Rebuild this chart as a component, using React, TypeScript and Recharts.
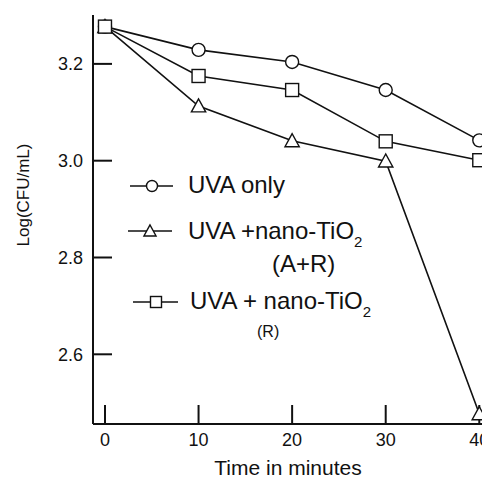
import React from 'react';
import { LineChart, Line, XAxis, YAxis, Legend } from 'recharts';

// time points (minutes) and Log(CFU/mL) per treatment
const times = [0, 10, 20, 30, 40];
const uvaOnly = [3.277, 3.229, 3.204, 3.146, 3.042];
const uvaTiO2AR = [3.277, 3.113, 3.041, 2.999, 2.477];
const uvaTiO2R = [3.277, 3.175, 3.146, 3.04, 3.001];

const xTicks = [0, 10, 20, 30, 40];
const yTicks = [2.6, 2.8, 3.0, 3.2];

const series = [
  { key: 'uva', name: 'UVA only', shape: 'circle', values: uvaOnly, main: 'UVA only', sub: '', note: '' },
  { key: 'ar', name: 'UVA +nano-TiO2 (A+R)', shape: 'triangle', values: uvaTiO2AR, main: 'UVA +nano-TiO', sub: '2', note: '(A+R)' },
  { key: 'r', name: 'UVA + nano-TiO2 (R)', shape: 'square', values: uvaTiO2R, main: 'UVA + nano-TiO', sub: '2', note: '(R)' },
];

const data = times.map((t, i) => {
  const row: Record<string, number> = { t };
  series.forEach((s) => (row[s.key] = s.values[i]));
  return row;
});

const FONT = '"Liberation Sans", Arial, sans-serif';
const INK = '#111';

const Marker = ({ shape, cx, cy, size }: { shape: string; cx: number; cy: number; size: number }) => {
  if (shape === 'circle') {
    return <circle cx={cx} cy={cy} r={size} fill="#fff" stroke={INK} strokeWidth={1.4} />;
  }
  if (shape === 'triangle') {
    const pts = `${cx},${cy - size * 1.1} ${cx - size * 1.1},${cy + size * 0.9} ${cx + size * 1.1},${cy + size * 0.9}`;
    return <polygon points={pts} fill="#fff" stroke={INK} strokeWidth={1.4} />;
  }
  return <rect x={cx - size} y={cy - size} width={size * 2} height={size * 2} fill="#fff" stroke={INK} strokeWidth={1.4} />;
};

// legend rows, local coordinates inside the legend box
const legendRows = [
  { lineY: 21, x0: 10, x1: 53, mx: 32, textX: 68, baseY: 28, noteX: 0, noteY: 0, noteSize: 24 },
  { lineY: 66, x0: 8, x1: 52, mx: 30, textX: 68, baseY: 74, noteX: 152, noteY: 107, noteSize: 24 },
  { lineY: 137, x0: 13, x1: 58, mx: 36, textX: 70, baseY: 144, noteX: 137, noteY: 172, noteSize: 16 },
];

const LegendBox = () => (
  <svg width={320} height={185} style={{ display: 'block' }}>
    {series.map((s, i) => {
      const r = legendRows[i];
      return (
        <g key={s.key}>
          <line x1={r.x0} x2={r.x1} y1={r.lineY} y2={r.lineY} stroke={INK} strokeWidth={1.5} />
          <Marker shape={s.shape} cx={r.mx} cy={r.lineY} size={5.5} />
          <text x={r.textX} y={r.baseY} fontSize={24} fontFamily={FONT} fill={INK}>
            {s.main}
            {s.sub && (
              <tspan fontSize={15} dy={8}>
                {s.sub}
              </tspan>
            )}
          </text>
          {s.note && (
            <text x={r.noteX} y={r.noteY} fontSize={r.noteSize} fontFamily={FONT} fill={INK}>
              {s.note}
            </text>
          )}
        </g>
      );
    })}
  </svg>
);

const tickStyle = { fontSize: 18, fontFamily: FONT, fill: INK };

export default function App() {
  return (
    <div style={{ position: 'fixed', left: 0, top: 0, width: 482, height: 478, overflow: 'hidden', background: '#fff' }}>
      <LineChart width={500} height={478} data={data} margin={{ top: 15, right: 2, bottom: 0, left: 0 }}>
        <XAxis
          dataKey="t"
          type="number"
          domain={[-1.28, 42]}
          ticks={xTicks}
          allowDataOverflow
          height={54}
          tickSize={-19}
          tickMargin={28}
          tick={tickStyle}
          axisLine={{ stroke: INK, strokeWidth: 2 }}
          tickLine={{ stroke: INK, strokeWidth: 2 }}
          label={{
            content: () => (
              <text x={288} y={475} textAnchor="middle" fontSize={21} fontFamily={FONT} fill={INK}>
                Time in minutes
              </text>
            ),
          }}
        />
        <XAxis
          xAxisId="top"
          dataKey="t"
          type="number"
          orientation="top"
          domain={[-1.28, 42]}
          height={0}
          tick={false}
          tickLine={false}
          axisLine={{ stroke: INK, strokeWidth: 2 }}
        />
        <YAxis
          type="number"
          domain={[2.456, 3.301]}
          ticks={yTicks}
          allowDataOverflow
          width={93}
          tickSize={-19}
          tickMargin={29}
          tick={tickStyle}
          tickFormatter={(v: number) => v.toFixed(1)}
          axisLine={{ stroke: INK, strokeWidth: 2 }}
          tickLine={{ stroke: INK, strokeWidth: 2 }}
          label={{
            content: () => (
              <text
                x={29}
                y={195}
                transform="rotate(-90 29 195)"
                textAnchor="middle"
                fontSize={17}
                fontFamily={FONT}
                fill={INK}
              >
                Log(CFU/mL)
              </text>
            ),
          }}
        />
        <Legend
          verticalAlign="middle"
          align="center"
          layout="horizontal"
          content={() => <LegendBox />}
          wrapperStyle={{ position: 'absolute', left: 120, top: 165, width: 320, height: 185 }}
        />
        {series.map((s) => (
          <Line
            key={s.key}
            dataKey={s.key}
            name={s.name}
            type="linear"
            stroke={INK}
            strokeWidth={1.6}
            isAnimationActive={false}
            dot={(p: any) => <Marker key={`${s.key}-${p.index}`} shape={s.shape} cx={p.cx} cy={p.cy} size={6.5} />}
          />
        ))}
      </LineChart>
    </div>
  );
}
